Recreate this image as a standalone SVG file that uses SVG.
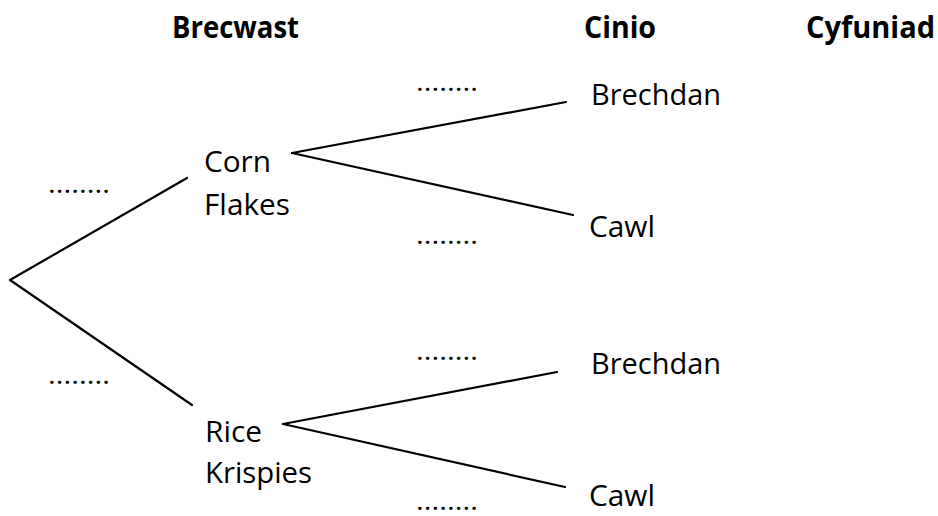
<svg xmlns="http://www.w3.org/2000/svg" width="938" height="516" viewBox="0 0 938 516">
<style>
.h{font-family:"Open Sans","Liberation Sans",sans-serif;font-weight:bold;font-size:30px;fill:#000}
.t{font-family:"Open Sans","Liberation Sans",sans-serif;font-size:30px;fill:#000}
.d{font-family:"Open Sans","Liberation Sans",sans-serif;font-weight:bold;font-size:20px;fill:#000}
.c{stroke:#000;stroke-width:2.2;fill:none;stroke-linecap:round}
</style>
<rect width="938" height="516" fill="#fff"/>
<g id="headers">
<text class="h" x="172" y="38" textLength="127" lengthAdjust="spacingAndGlyphs">Brecwast</text>
<text class="h" x="584" y="38" textLength="72" lengthAdjust="spacingAndGlyphs">Cinio</text>
<text class="h" x="806" y="38" textLength="129" lengthAdjust="spacingAndGlyphs">Cyfuniad</text>
</g>
<g id="connectors">
<line class="c" x1="10" y1="280" x2="187" y2="178"/>
<line class="c" x1="10" y1="280" x2="192" y2="405"/>
<line class="c" x1="292" y1="153" x2="566" y2="102"/>
<line class="c" x1="292" y1="153" x2="573" y2="215"/>
<line class="c" x1="283" y1="424" x2="557" y2="372"/>
<line class="c" x1="283" y1="424" x2="565" y2="487"/>
</g>
<g id="node-cornflakes">
<text class="t" x="204" y="172" textLength="67" lengthAdjust="spacingAndGlyphs">Corn</text>
<text class="t" x="204" y="215" textLength="86" lengthAdjust="spacingAndGlyphs">Flakes</text>
</g>
<g id="node-ricekrispies">
<text class="t" x="205" y="442" textLength="57" lengthAdjust="spacingAndGlyphs">Rice</text>
<text class="t" x="205" y="483" textLength="107" lengthAdjust="spacingAndGlyphs">Krispies</text>
</g>
<g id="node-brechdan-1">
<text class="t" x="591" y="105" textLength="130" lengthAdjust="spacingAndGlyphs">Brechdan</text>
</g>
<g id="node-cawl-1">
<text class="t" x="589" y="237" textLength="66" lengthAdjust="spacingAndGlyphs">Cawl</text>
</g>
<g id="node-brechdan-2">
<text class="t" x="591" y="374" textLength="130" lengthAdjust="spacingAndGlyphs">Brechdan</text>
</g>
<g id="node-cawl-2">
<text class="t" x="589" y="506" textLength="66" lengthAdjust="spacingAndGlyphs">Cawl</text>
</g>
<g id="probabilities">
<text class="d" x="49" y="193" textLength="60" lengthAdjust="spacing">........</text>
<text class="d" x="49" y="384" textLength="60" lengthAdjust="spacing">........</text>
<text class="d" x="417" y="91" textLength="60" lengthAdjust="spacing">........</text>
<text class="d" x="417" y="244" textLength="60" lengthAdjust="spacing">........</text>
<text class="d" x="417" y="360" textLength="60" lengthAdjust="spacing">........</text>
<text class="d" x="417" y="510" textLength="60" lengthAdjust="spacing">........</text>
</g>
</svg>
